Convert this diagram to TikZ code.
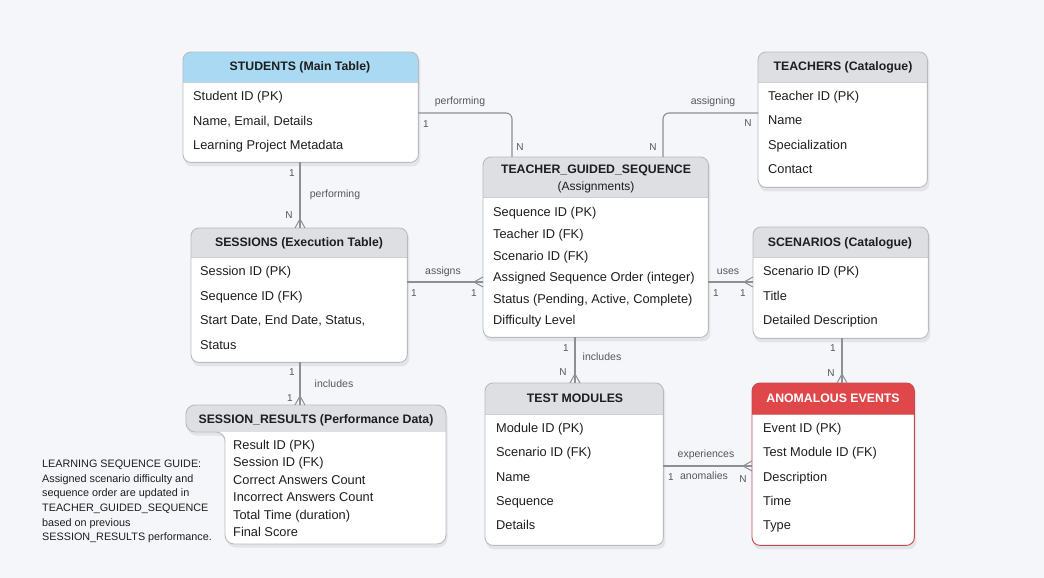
\documentclass[tikz,border=0pt]{standalone}
\usepackage{fontspec}
\setmainfont{Liberation Sans}
\usetikzlibrary{calc}
\definecolor{bg}{HTML}{F4F6F9}
\definecolor{hdrgray}{HTML}{DEDFE3}
\definecolor{hdrblue}{HTML}{A9D9F3}
\definecolor{hdrred}{HTML}{E0474A}
\definecolor{bordergray}{HTML}{B8BBC0}
\definecolor{borderred}{HTML}{C4484C}
\definecolor{linegray}{HTML}{8C8F94}
\definecolor{txt}{HTML}{1E1E1E}
\definecolor{lbl}{HTML}{555759}
\newcommand\erbox[8]{% name, x1, y1, x2, y2, header bottom, header colour, border colour
  \node[inner sep=0pt,minimum width={#4pt-#2pt},minimum height={#5pt-#3pt},anchor=north west] (#1) at (#2,#3) {};
  \fill[black,opacity=0.07,rounded corners=8pt] ($(#1.north west)+(1,3)$) rectangle ($(#1.south east)+(2,4)$);
  \fill[white,rounded corners=8pt] (#1.north west) rectangle (#1.south east);
  \begin{scope}
    \clip[rounded corners=8pt] (#1.north west) rectangle (#1.south east);
    \fill[#7] (#1.north west) rectangle (#1.east |- 0,#6);
  \end{scope}
  \draw[#8!70,line width=0.6pt] (#1.west |- 0,#6) -- (#1.east |- 0,#6);
  \draw[#8,line width=0.9pt,rounded corners=8pt] (#1.north west) rectangle (#1.south east);
}
\newcommand\crowdown[2]{\draw[crow] (#1,#2-9) -- (#1-5,#2) (#1,#2-9) -- (#1+5,#2);}
\newcommand\crowright[2]{\draw[crow] (#1-9,#2) -- (#1,#2-5) (#1-9,#2) -- (#1,#2+5);}
\begin{document}
\begin{tikzpicture}[x=1pt,y=-1pt,
  row/.style={anchor=west,inner sep=0pt,text height=9.4pt,text depth=2.8pt,font=\fontsize{12.8}{15}\selectfont,text=txt},
  hdr/.style={inner sep=0pt,text height=9.2pt,text depth=2.6pt,font=\bfseries\fontsize{12.3}{15}\selectfont,text=txt},
  lab/.style={inner sep=0pt,text height=7.8pt,text depth=2.2pt,font=\fontsize{10.5}{12}\selectfont,text=lbl},
  card/.style={inner sep=0pt,text height=7.4pt,text depth=0pt,font=\fontsize{10}{12}\selectfont,text=lbl},
  conn/.style={draw=linegray,line width=1.1pt},
  crow/.style={draw=linegray,line width=1pt},
  note/.style={inner sep=0pt,align=left,font=\fontsize{10.8}{14.6}\selectfont,text=txt},
]
\fill[bg] (0,0) rectangle (1044,578);
\useasboundingbox (0,0) rectangle (1044,578);

% ---------- boxes ----------
\erbox{stu}{183}{52}{418}{162}{82}{hdrblue}{bordergray}
\erbox{tea}{758}{52}{927}{187}{82}{hdrgray}{bordergray}
\erbox{tgs}{483}{157}{708}{337}{197}{hdrgray}{bordergray}
\erbox{ses}{191}{228}{407}{362}{257}{hdrgray}{bordergray}
\erbox{sce}{753}{227}{928}{338}{257}{hdrgray}{bordergray}
\erbox{tm}{485}{383}{663}{545}{414}{hdrgray}{bordergray}
\erbox{ae}{752}{383}{914}{545}{414}{hdrred}{borderred}

% session results (notched shape)
\node[inner sep=0pt,minimum width=260pt,minimum height=139pt,anchor=north west] (sr) at (186,405) {};
\fill[black,opacity=0.07,rounded corners=9pt,shift={(1.5,3.5)}] (316,405) -- (446,405) -- (446,544) -- (225,544) -- (225,432) -- (186,432) -- (186,405) -- cycle;
\fill[white,rounded corners=9pt] (316,405) -- (446,405) -- (446,544) -- (225,544) -- (225,432) -- (186,432) -- (186,405) -- cycle;
\begin{scope}
  \clip[rounded corners=9pt] (316,405) -- (446,405) -- (446,544) -- (225,544) -- (225,432) -- (186,432) -- (186,405) -- cycle;
  \fill[hdrgray] (186,405) rectangle (446,432);
\end{scope}
\draw[bordergray,line width=0.9pt,rounded corners=9pt] (316,405) -- (446,405) -- (446,544) -- (225,544) -- (225,432) -- (186,432) -- (186,405) -- cycle;

% ---------- connectors ----------
\draw[conn,rounded corners=6pt] (stu.east |- 0,113) -| (tgs.north -| 512,0);
\draw[conn,rounded corners=6pt] (tea.west |- 0,113) -| (tgs.north -| 663,0);
\draw[conn] (stu.south -| 300,0) -- (ses.north -| 300,0);
\crowdown{300}{228}
\draw[conn] (ses.east |- 0,282) -- (tgs.west |- 0,282);
\crowright{483}{282}
\draw[conn] (tgs.east |- 0,282) -- (sce.west |- 0,282);
\crowright{753}{282}
\draw[conn] (tgs.south -| 575,0) -- (tm.north -| 575,0);
\crowdown{575}{383}
\draw[conn] (sce.south -| 842,0) -- (ae.north -| 842,0);
\crowdown{842}{383}
\draw[conn] (ses.south -| 300,0) -- (sr.north -| 300,0);
\crowdown{300}{405}
\draw[conn] (tm.east |- 0,466) -- (ae.west |- 0,466);
\crowright{752}{466}

% ---------- connector labels ----------
\node[lab] (l1) at (460,102) {performing};
\node[card] (c1a) at (426,124) {1};
\node[card] (c1b) at (520,147) {N};
\node[lab] (l2) at (713,102) {assigning};
\node[card] (c2a) at (748,123) {N};
\node[card] (c2b) at (653,147) {N};
\node[card] (c3a) at (292,173) {1};
\node[lab] (l3) at (335,195) {performing};
\node[card] (c3b) at (289,215) {N};
\node[lab] (l4) at (443,272) {assigns};
\node[card] (c4a) at (414,293) {1};
\node[card] (c4b) at (474,293) {1};
\node[lab] (l5) at (728,272) {uses};
\node[card] (c5a) at (716,293) {1};
\node[card] (c5b) at (743,293) {1};
\node[card] (c6a) at (566,348) {1};
\node[lab] (l6) at (602,358) {includes};
\node[card] (c6b) at (563,372) {N};
\node[card] (c7a) at (833,348) {1};
\node[card] (c7b) at (831,373) {N};
\node[card] (c8a) at (292,372) {1};
\node[lab] (l8) at (334,385) {includes};
\node[card] (c8b) at (290,398) {1};
\node[lab] (l9) at (706,455) {experiences};
\node[card] (c9a) at (671,477) {1};
\node[lab] (l9b) at (704,477) {anomalies};
\node[card] (c9b) at (743,479) {N};

% ---------- STUDENTS ----------
\node[hdr] (stuh) at (300,67) {STUDENTS (Main Table)};
\node[row] (stu1) at (193,97) {Student ID (PK)};
\node[row] (stu2) at (193,122) {Name, Email, Details};
\node[row] (stu3) at (193,146) {Learning Project Metadata};

% ---------- TEACHERS ----------
\node[hdr] (teah) at (843,67) {TEACHERS (Catalogue)};
\node[row] (tea1) at (768,97) {Teacher ID (PK)};
\node[row] (tea2) at (768,121) {Name};
\node[row] (tea3) at (768,146) {Specialization};
\node[row] (tea4) at (768,170) {Contact};

% ---------- TEACHER_GUIDED_SEQUENCE ----------
\node[hdr] (tgsh) at (596,170) {TEACHER\_GUIDED\_SEQUENCE};
\node[inner sep=0pt,font=\fontsize{12}{14}\selectfont,text=txt] (tgsh2) at (596,187) {(Assignments)};
\node[row] (tgs1) at (493,213) {Sequence ID (PK)};
\node[row] (tgs2) at (493,235) {Teacher ID (FK)};
\node[row] (tgs3) at (493,257) {Scenario ID (FK)};
\node[row] (tgs4) at (493,278) {Assigned Sequence Order (integer)};
\node[row] (tgs5) at (493,300) {Status (Pending, Active, Complete)};
\node[row] (tgs6) at (493,321) {Difficulty Level};

% ---------- SESSIONS ----------
\node[hdr] (sesh) at (299,243) {SESSIONS (Execution Table)};
\node[row] (ses1) at (200,272) {Session ID (PK)};
\node[row] (ses2) at (200,297) {Sequence ID (FK)};
\node[row] (ses3) at (200,321) {Start Date, End Date, Status,};
\node[row] (ses4) at (200,346) {Status};

% ---------- SCENARIOS ----------
\node[hdr] (sceh) at (840,243) {SCENARIOS (Catalogue)};
\node[row] (sce1) at (763,272) {Scenario ID (PK)};
\node[row] (sce2) at (763,297) {Title};
\node[row] (sce3) at (763,321) {Detailed Description};

% ---------- SESSION_RESULTS ----------
\node[hdr] (srh) at (316,420) {SESSION\_RESULTS (Performance Data)};
\node[row] (sr1) at (233,446) {Result ID (PK)};
\node[row] (sr2) at (233,463) {Session ID (FK)};
\node[row] (sr3) at (233,481) {Correct Answers Count};
\node[row] (sr4) at (233,498) {Incorrect Answers Count};
\node[row] (sr5) at (233,516) {Total Time (duration)};
\node[row] (sr6) at (233,533) {Final Score};

% ---------- TEST MODULES ----------
\node[hdr] (tmh) at (575,399) {TEST MODULES};
\node[row] (tm1) at (496,429) {Module ID (PK)};
\node[row] (tm2) at (496,453) {Scenario ID (FK)};
\node[row] (tm3) at (496,478) {Name};
\node[row] (tm4) at (496,502) {Sequence};
\node[row] (tm5) at (496,526) {Details};

% ---------- ANOMALOUS EVENTS ----------
\node[hdr,text=white] (aeh) at (833,399) {ANOMALOUS EVENTS};
\node[row] (ae1) at (763,429) {Event ID (PK)};
\node[row] (ae2) at (763,453) {Test Module ID (FK)};
\node[row] (ae3) at (763,478) {Description};
\node[row] (ae4) at (763,502) {Time};
\node[row] (ae5) at (763,526) {Type};

% ---------- note ----------
\node[note,anchor=west] (guide) at (42,501.5) {LEARNING SEQUENCE GUIDE:\\Assigned scenario difficulty and\\sequence order are updated in\\TEACHER\_GUIDED\_SEQUENCE\\based on previous\\SESSION\_RESULTS performance.};
\end{tikzpicture}
\end{document}
